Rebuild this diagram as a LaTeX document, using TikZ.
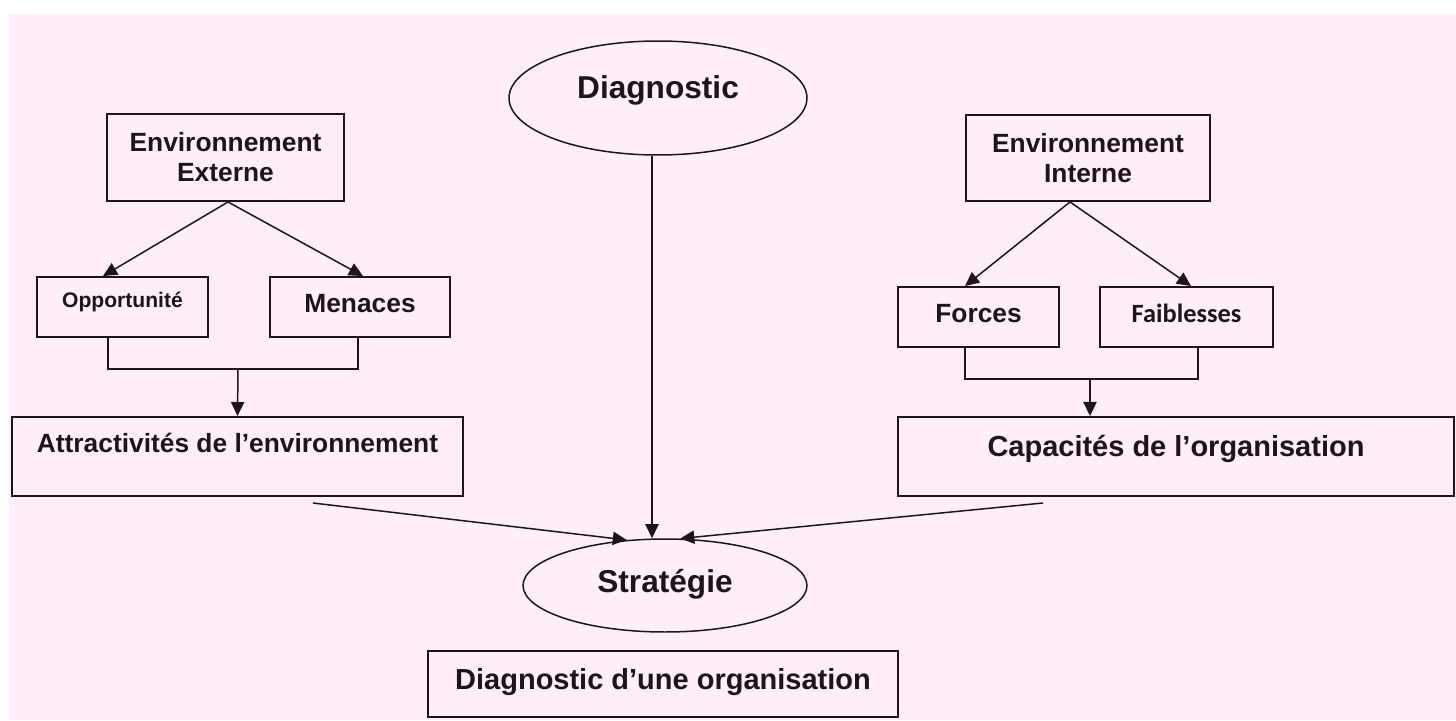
\documentclass[tikz,border=0pt]{standalone}
\usepackage{fontspec}
\setmainfont{Liberation Sans}
\newfontfamily\carlito{Carlito}
\usepackage{xcolor}
\usetikzlibrary{shapes.geometric}
\usetikzlibrary{arrows.meta}
\definecolor{rose}{RGB}{253,238,248}
\definecolor{encre}{RGB}{30,20,26}

\begin{document}
\begin{tikzpicture}[x=0.02cm,y=-0.02cm,
    boite/.style={draw=encre, line width=1.1pt, inner sep=0pt, text=encre, font=\bfseries\fontsize{15}{17}\selectfont},
    bulle/.style={draw=encre, line width=0.85pt, ellipse, inner sep=0pt, text=encre, font=\bfseries\fontsize{18}{21}\selectfont},
    assise/.style={text height=12pt, text depth=#1},
    trait/.style={draw=encre, line width=0.85pt},
    fleche/.style={trait, -{Triangle[length=8pt,width=7.5pt]}}]

    \useasboundingbox (0,0) rectangle (1456,720);
    \fill[rose] (9,14) rectangle (1456,720);

    \node[bulle, minimum width=5.96cm, minimum height=2.28cm, assise=10.9pt] (diag) at (658,98) {Diagnostic};
    \node[bulle, minimum width=5.68cm, minimum height=1.86cm, assise=3.5pt] (strat) at (665,585.5) {Stratégie};

    \node[boite, minimum width=4.74cm, minimum height=1.74cm, align=center] (envext) at (225.5,157.5) {Environnement\\Externe};
    \node[boite, minimum width=3.42cm, minimum height=1.2cm, assise=10.9pt, font=\bfseries\fontsize{12}{14}\selectfont] (opp) at (122.5,307) {Opportunité};
    \node[boite, minimum width=3.6cm, minimum height=1.2cm, assise=5.2pt] (men) at (360,307) {Menaces};
    \node[boite, minimum width=9.02cm, minimum height=1.58cm, assise=16pt] (attr) at (237.5,456.5) {Attractivités de l’environnement};

    \node[boite, minimum width=4.88cm, minimum height=1.72cm, align=center] (envint) at (1088,158) {Environnement\\Interne};
    \node[boite, minimum width=3.22cm, minimum height=1.2cm, assise=5.2pt] (forces) at (978.5,317) {Forces};
    \node[boite, minimum width=3.46cm, minimum height=1.2cm, assise=5.2pt, font=\carlito\bfseries\fontsize{15}{17}\selectfont] (faib) at (1186.5,317) {Faiblesses};
    \node[boite, minimum width=11.12cm, minimum height=1.58cm, assise=12pt, font=\bfseries\fontsize{16.5}{19}\selectfont] (cap) at (1176,456.5) {Capacités de l’organisation};

    \node[boite, minimum width=9.4cm, minimum height=1.32cm, assise=6.3pt, font=\bfseries\fontsize{16.5}{19}\selectfont] (diagorg) at (663,684) {Diagnostic d’une organisation};

    \coordinate (jonctionG) at (238,369);
    \coordinate (jonctionD) at (1090,379);
    \coordinate (depG) at (313,503);
    \coordinate (depD) at (1043,503);
    \coordinate (descente) at ([xshift=-0.12cm]diag.south);

    \draw[fleche] ([xshift=0.05cm]envext.south) -- ([xshift=-0.39cm]opp.north);
    \draw[fleche] ([xshift=0.05cm]envext.south) -- ([xshift=0.06cm]men.north);
    \draw[trait] ([xshift=-0.29cm]opp.south) |- (jonctionG) -| ([xshift=-0.04cm]men.south);
    \draw[fleche] (jonctionG) -- (attr.north);

    \draw[fleche] ([xshift=-0.36cm]envint.south) -- ([xshift=-0.27cm]forces.north);
    \draw[fleche] ([xshift=-0.36cm]envint.south) -- ([xshift=0.09cm]faib.north);
    \draw[trait] ([xshift=-0.27cm]forces.south) |- (jonctionD) -| ([xshift=0.23cm]faib.south);
    \draw[fleche] (jonctionD) -- (jonctionD |- cap.north);

    \draw[fleche] (descente) -- (descente |- strat.north);
    \draw[fleche] (depG) -- (strat.130);
    \draw[fleche] (depD) -- (strat.72);
\end{tikzpicture}
\end{document}
